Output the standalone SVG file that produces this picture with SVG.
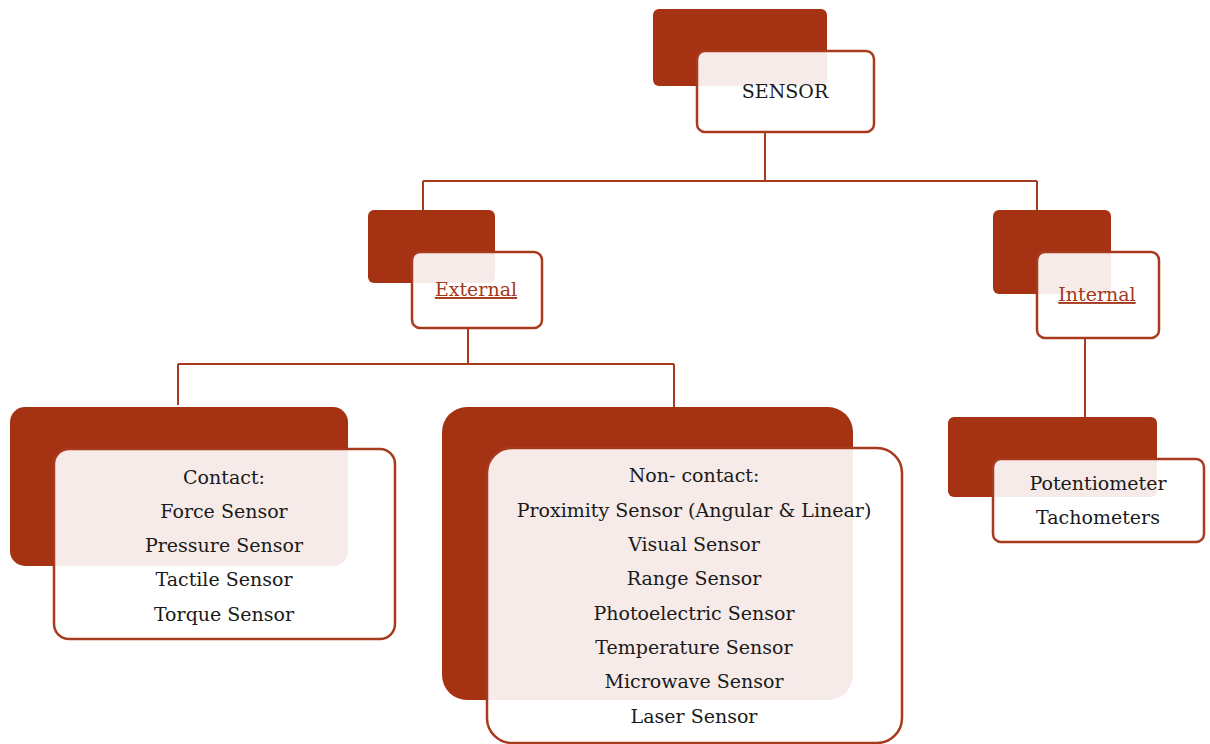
<svg xmlns="http://www.w3.org/2000/svg" width="1210" height="744" viewBox="0 0 1210 744">
<style>
.dark{fill:#a63214}
.box{fill:#ffffff;fill-opacity:0.9;stroke:#a83a1e;stroke-width:2.5}
.t{font-family:"DejaVu Serif","Liberation Serif",serif;font-size:19px;fill:#1a1a1a;text-anchor:middle}
.u{fill:#a3381c;text-decoration:underline}
.c{fill:none;stroke:#a83a1e;stroke-width:2}
</style>
<rect width="1210" height="744" fill="#ffffff"/>
<g id="connectors">
<path class="c" d="M765,132V181M423,181H1037M423,181V210M1037,181V210"/>
<path class="c" d="M468,328V364M178,364H674M178,364V405M674,364V407"/>
<path class="c" d="M1085,338V417"/>
</g>
<g id="sensor">
<rect class="dark" x="653" y="9" width="174" height="77" rx="6"/>
<rect class="box" x="697" y="51" width="177" height="81" rx="8"/>
<text class="t" x="785" y="98">SENSOR</text>
</g>
<g id="external">
<rect class="dark" x="368" y="210" width="127" height="73" rx="6"/>
<rect class="box" x="412" y="252" width="130" height="76" rx="8"/>
<text class="t u" x="476" y="296">External</text>
</g>
<g id="internal">
<rect class="dark" x="993" y="210" width="118" height="84" rx="6"/>
<rect class="box" x="1037" y="252" width="122" height="86" rx="8"/>
<text class="t u" x="1097" y="301">Internal</text>
</g>
<g id="contact">
<rect class="dark" x="10" y="407" width="338" height="159" rx="15"/>
<rect class="box" x="54" y="449" width="341" height="190" rx="15"/>
<text class="t" x="224" y="484">Contact:</text>
<text class="t" x="224" y="518">Force Sensor</text>
<text class="t" x="224" y="552">Pressure Sensor</text>
<text class="t" x="224" y="586">Tactile Sensor</text>
<text class="t" x="224" y="621">Torque Sensor</text>
</g>
<g id="noncontact">
<rect class="dark" x="442" y="407" width="411" height="293" rx="25"/>
<rect class="box" x="487" y="448" width="415" height="295" rx="25"/>
<text class="t" x="694" y="482">Non- contact:</text>
<text class="t" x="694" y="517">Proximity Sensor (Angular &amp; Linear)</text>
<text class="t" x="694" y="551">Visual Sensor</text>
<text class="t" x="694" y="585">Range Sensor</text>
<text class="t" x="694" y="620">Photoelectric Sensor</text>
<text class="t" x="694" y="654">Temperature Sensor</text>
<text class="t" x="694" y="688">Microwave Sensor</text>
<text class="t" x="694" y="723">Laser Sensor</text>
</g>
<g id="internal-items">
<rect class="dark" x="948" y="417" width="209" height="80" rx="6"/>
<rect class="box" x="993" y="459" width="211" height="83" rx="8"/>
<text class="t" x="1098" y="490">Potentiometer</text>
<text class="t" x="1098" y="524">Tachometers</text>
</g>
</svg>
